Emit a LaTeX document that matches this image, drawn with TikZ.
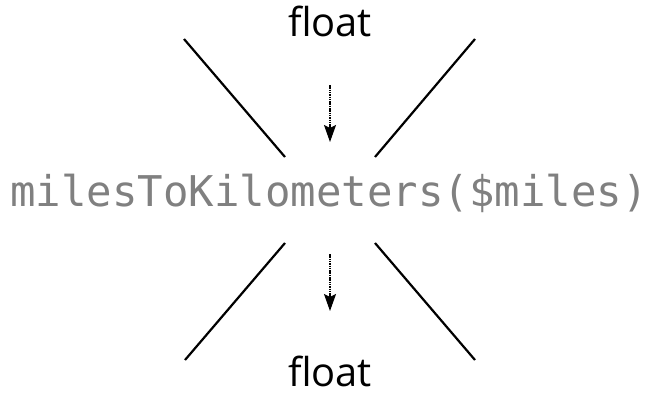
\documentclass[tikz,border=0pt]{standalone}
\usepackage{fontspec}
\setmainfont{Open Sans}
\setmonofont{DejaVu Sans Mono}
\usepackage{tikz}
\usetikzlibrary{arrows.meta, positioning}

\begin{document}
\begin{tikzpicture}[x=1bp, y=1bp,
			type/.style={font=\fontsize{40}{46}\selectfont, anchor=base, inner sep=0pt},
			func/.style={font=\ttfamily\fontsize{42.5}{50}\selectfont, text=black!50, anchor=base, inner sep=0pt},
			edge/.style={line width=2.2bp, black},
			flow/.style={-{Stealth[length=17bp, width=12bp, inset=3bp]}, line width=1.2bp, dash pattern=on 1.5bp off 0.8bp}]
			
			\useasboundingbox (0,0) rectangle (655,394);
			
			\node[type] (in) at (330,358) {float};
			\node[func] (fn) at (329,188) {milesToKilometers(\$miles)};
			\node[type] (out) at (330,8) {float};
			
			% funnel
			\draw[edge] (184,355) -- (285,237);
			\draw[edge] (475,355) -- (375,237);
			\draw[edge] (285,151) -- (185,34);
			\draw[edge] (375,151) -- (475,34);
			
			\coordinate (inA) at (330,309);
			\coordinate (inB) at (330,252);
			\coordinate (outA) at (330,140);
			\coordinate (outB) at (330,83);
			\draw[flow] (inA) -- (inB);
			\draw[flow] (outA) -- (outB);
		\end{tikzpicture}
\end{document}
